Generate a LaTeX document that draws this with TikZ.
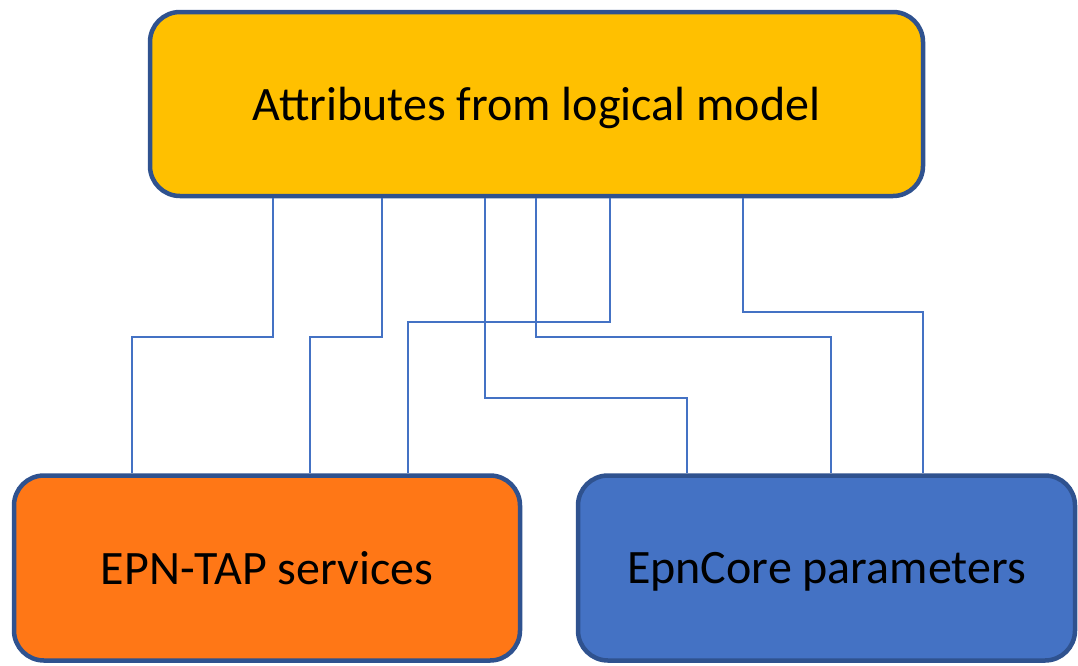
\documentclass[tikz,border=0pt]{standalone}
\usepackage{fontspec}
\setmainfont{Carlito}
\usetikzlibrary{positioning}

\definecolor{attrfill}{HTML}{FFC000}
\definecolor{epnfill}{HTML}{FF7716}
\definecolor{corefill}{HTML}{4472C4}
\definecolor{boxline}{HTML}{2F528F}
\definecolor{linkline}{HTML}{4472C4}

\begin{document}
\begin{tikzpicture}[x=1pt, y=-1pt]
    \tikzstyle{block} = [rectangle, draw=boxline, line width=4.5pt, rounded corners=30pt, text=black, minimum height=185pt, text depth=0pt, font=\fontsize{48}{57}\selectfont]
    \tikzstyle{link} = [draw=linkline, line width=1.5pt]

    \useasboundingbox (0,0) rectangle (1078,665);

    \node [block, fill=attrfill, minimum width=773pt, minimum height=184pt] (attr) at (536.5,104) {Attributes from logical model};
    \node [block, fill=epnfill, minimum width=506pt] (epn) at (267,568) {EPN-TAP services};
    \node [block, fill=corefill, minimum width=497pt, right of=epn, node distance=559.5pt] (core) {EpnCore parameters};

    % links to EPN-TAP services
    \draw [link] (attr.south -| 273,0) |- (132,337) -- (epn.north -| 132,0);
    \draw [link] (attr.south -| 382,0) |- (310,337) -- (epn.north -| 310,0);
    \draw [link] (attr.south -| 610,0) |- (408,322) -- (epn.north -| 408,0);

    % links to EpnCore parameters
    \draw [link] (attr.south -| 485,0) |- (687,398) -- (core.north -| 687,0);
    \draw [link] (attr.south -| 536,0) |- (831,337) -- (core.north -| 831,0);
    \draw [link] (attr.south -| 743,0) |- (923,312) -- (core.north -| 923,0);
\end{tikzpicture}
\end{document}
